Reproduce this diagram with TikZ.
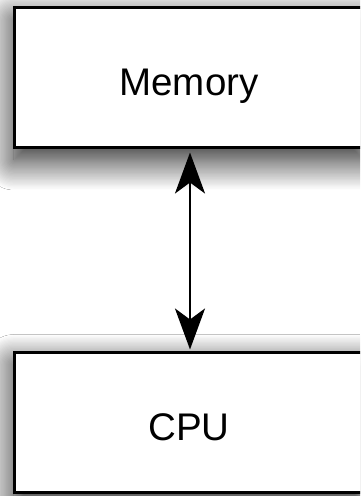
\documentclass[tikz,border=0pt]{standalone}
\usepackage{fontspec}
\setmainfont{Liberation Sans}
\usetikzlibrary{arrows.meta,shadows.blur}
\begin{document}
\begin{tikzpicture}[x=1pt,y=1pt,
  unitbox/.style={draw=black, line width=3pt, fill=white,
    minimum width=350pt, minimum height=140pt, inner sep=0pt,
    text height=36pt, text depth=0pt,
    font=\fontsize{38.5}{40}\selectfont,
    blur shadow={shadow xshift=0pt, shadow yshift=-12pt,
      shadow blur radius=30pt, shadow blur steps=25,
      shadow opacity=90}},
  bustip/.tip={Stealth[length=41pt,width=30pt,inset=11pt]},
  bus/.style={line width=2.6pt, bustip-bustip}]
  \useasboundingbox (0,0) rectangle (360,496);
  \fill[white] (0,0) rectangle (360,496);
  \begin{scope}
    \clip (0,0) rectangle (360,496);
    \node[unitbox] (mem) at (189,418) {Memory};
    \node[unitbox] (cpu) at (189,73.5) {CPU};
    \draw[bus] ([xshift=1pt,yshift=-3pt]mem.south) -- ([xshift=1pt,yshift=1.5pt]cpu.north);
  \end{scope}
\end{tikzpicture}
\end{document}
